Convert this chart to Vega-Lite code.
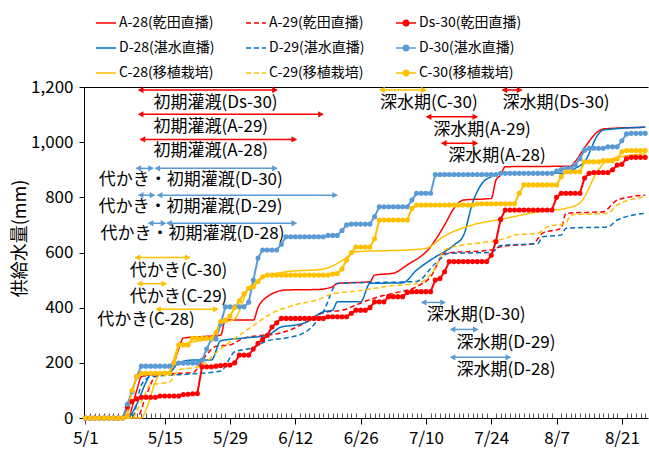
{
  "$schema": "https://vega.github.io/schema/vega-lite/v6.json",
  "width": 564,
  "height": 331,
  "autosize": {"type": "none"},
  "padding": {"left": 84, "top": 87, "right": 1, "bottom": 32},
  "background": "white",
  "config": {
    "font": "Noto Sans CJK JP",
    "view": {"stroke": null},
    "axis": {"labelFont": "Noto Sans CJK JP", "titleFont": "Noto Sans CJK JP", "labelColor": "#000", "titleColor": "#000", "domainColor": "#000", "tickColor": "#000", "domainWidth": 1},
    "legend": {"labelFont": "Noto Sans CJK JP", "labelColor": "#000"}
  },
  "datasets": {
    "lines": [
      {"s":"A-28(乾田直播)","date":"2018/04/28","v":0},{"s":"A-28(乾田直播)","date":"2018/05/07","v":0},{"s":"A-28(乾田直播)","date":"2018/05/09","v":100},{"s":"A-28(乾田直播)","date":"2018/05/10","v":150},{"s":"A-28(乾田直播)","date":"2018/05/16","v":165},{"s":"A-28(乾田直播)","date":"2018/05/18","v":250},{"s":"A-28(乾田直播)","date":"2018/05/19","v":290},{"s":"A-28(乾田直播)","date":"2018/05/23","v":295},{"s":"A-28(乾田直播)","date":"2018/05/27","v":300},{"s":"A-28(乾田直播)","date":"2018/05/28","v":355},{"s":"A-28(乾田直播)","date":"2018/06/03","v":355},{"s":"A-28(乾田直播)","date":"2018/06/04","v":400},{"s":"A-28(乾田直播)","date":"2018/06/06","v":440},{"s":"A-28(乾田直播)","date":"2018/06/10","v":464},{"s":"A-28(乾田直播)","date":"2018/06/17","v":466},{"s":"A-28(乾田直播)","date":"2018/06/20","v":476},{"s":"A-28(乾田直播)","date":"2018/06/21","v":488},{"s":"A-28(乾田直播)","date":"2018/06/28","v":494},{"s":"A-28(乾田直播)","date":"2018/06/29","v":518},{"s":"A-28(乾田直播)","date":"2018/07/03","v":525},{"s":"A-28(乾田直播)","date":"2018/07/06","v":555},{"s":"A-28(乾田直播)","date":"2018/07/11","v":621},{"s":"A-28(乾田直播)","date":"2018/07/12","v":645},{"s":"A-28(乾田直播)","date":"2018/07/14","v":700},{"s":"A-28(乾田直播)","date":"2018/07/16","v":760},{"s":"A-28(乾田直播)","date":"2018/07/18","v":790},{"s":"A-28(乾田直播)","date":"2018/07/24","v":796},{"s":"A-28(乾田直播)","date":"2018/07/25","v":862},{"s":"A-28(乾田直播)","date":"2018/07/26","v":881},{"s":"A-28(乾田直播)","date":"2018/07/27","v":911},{"s":"A-28(乾田直播)","date":"2018/08/10","v":913},{"s":"A-28(乾田直播)","date":"2018/08/11","v":930},{"s":"A-28(乾田直播)","date":"2018/08/13","v":980},{"s":"A-28(乾田直播)","date":"2018/08/16","v":1040},{"s":"A-28(乾田直播)","date":"2018/08/17","v":1048},{"s":"A-28(乾田直播)","date":"2018/08/26","v":1054},
      {"s":"A-29(乾田直播)","date":"2018/04/28","v":0},{"s":"A-29(乾田直播)","date":"2018/05/09","v":0},{"s":"A-29(乾田直播)","date":"2018/05/11","v":80},{"s":"A-29(乾田直播)","date":"2018/05/13","v":150},{"s":"A-29(乾田直播)","date":"2018/05/16","v":160},{"s":"A-29(乾田直播)","date":"2018/05/21","v":165},{"s":"A-29(乾田直播)","date":"2018/05/24","v":230},{"s":"A-29(乾田直播)","date":"2018/05/26","v":260},{"s":"A-29(乾田直播)","date":"2018/05/29","v":265},{"s":"A-29(乾田直播)","date":"2018/06/01","v":290},{"s":"A-29(乾田直播)","date":"2018/06/05","v":300},{"s":"A-29(乾田直播)","date":"2018/06/08","v":305},{"s":"A-29(乾田直播)","date":"2018/06/11","v":320},{"s":"A-29(乾田直播)","date":"2018/06/14","v":345},{"s":"A-29(乾田直播)","date":"2018/06/17","v":375},{"s":"A-29(乾田直播)","date":"2018/06/19","v":385},{"s":"A-29(乾田直播)","date":"2018/06/22","v":390},{"s":"A-29(乾田直播)","date":"2018/06/25","v":410},{"s":"A-29(乾田直播)","date":"2018/06/30","v":440},{"s":"A-29(乾田直播)","date":"2018/07/03","v":452},{"s":"A-29(乾田直播)","date":"2018/07/08","v":476},{"s":"A-29(乾田直播)","date":"2018/07/11","v":512},{"s":"A-29(乾田直播)","date":"2018/07/14","v":597},{"s":"A-29(乾田直播)","date":"2018/07/24","v":609},{"s":"A-29(乾田直播)","date":"2018/07/26","v":621},{"s":"A-29(乾田直播)","date":"2018/08/02","v":633},{"s":"A-29(乾田直播)","date":"2018/08/04","v":670},{"s":"A-29(乾田直播)","date":"2018/08/08","v":688},{"s":"A-29(乾田直播)","date":"2018/08/09","v":742},{"s":"A-29(乾田直播)","date":"2018/08/17","v":748},{"s":"A-29(乾田直播)","date":"2018/08/20","v":790},{"s":"A-29(乾田直播)","date":"2018/08/26","v":808},
      {"s":"D-28(湛水直播)","date":"2018/04/28","v":0},{"s":"D-28(湛水直播)","date":"2018/05/07","v":0},{"s":"D-28(湛水直播)","date":"2018/05/09","v":50},{"s":"D-28(湛水直播)","date":"2018/05/11","v":130},{"s":"D-28(湛水直播)","date":"2018/05/12","v":160},{"s":"D-28(湛水直播)","date":"2018/05/16","v":165},{"s":"D-28(湛水直播)","date":"2018/05/18","v":200},{"s":"D-28(湛水直播)","date":"2018/05/21","v":210},{"s":"D-28(湛水直播)","date":"2018/05/25","v":210},{"s":"D-28(湛水直播)","date":"2018/05/27","v":280},{"s":"D-28(湛水直播)","date":"2018/06/01","v":290},{"s":"D-28(湛水直播)","date":"2018/06/06","v":300},{"s":"D-28(湛水直播)","date":"2018/06/09","v":330},{"s":"D-28(湛水直播)","date":"2018/06/12","v":337},{"s":"D-28(湛水直播)","date":"2018/06/14","v":345},{"s":"D-28(湛水直播)","date":"2018/06/18","v":385},{"s":"D-28(湛水直播)","date":"2018/06/20","v":391},{"s":"D-28(湛水直播)","date":"2018/06/21","v":421},{"s":"D-28(湛水直播)","date":"2018/06/26","v":421},{"s":"D-28(湛水直播)","date":"2018/06/28","v":488},{"s":"D-28(湛水直播)","date":"2018/07/05","v":490},{"s":"D-28(湛水直播)","date":"2018/07/08","v":536},{"s":"D-28(湛水直播)","date":"2018/07/11","v":573},{"s":"D-28(湛水直播)","date":"2018/07/16","v":627},{"s":"D-28(湛水直播)","date":"2018/07/18","v":660},{"s":"D-28(湛水直播)","date":"2018/07/20","v":780},{"s":"D-28(湛水直播)","date":"2018/07/22","v":850},{"s":"D-28(湛水直播)","date":"2018/07/24","v":875},{"s":"D-28(湛水直播)","date":"2018/07/26","v":887},{"s":"D-28(湛水直播)","date":"2018/08/09","v":887},{"s":"D-28(湛水直播)","date":"2018/08/11","v":905},{"s":"D-28(湛水直播)","date":"2018/08/13","v":929},{"s":"D-28(湛水直播)","date":"2018/08/16","v":1030},{"s":"D-28(湛水直播)","date":"2018/08/17","v":1044},{"s":"D-28(湛水直播)","date":"2018/08/26","v":1054},
      {"s":"D-29(湛水直播)","date":"2018/04/28","v":0},{"s":"D-29(湛水直播)","date":"2018/05/08","v":0},{"s":"D-29(湛水直播)","date":"2018/05/10","v":120},{"s":"D-29(湛水直播)","date":"2018/05/12","v":150},{"s":"D-29(湛水直播)","date":"2018/05/16","v":155},{"s":"D-29(湛水直播)","date":"2018/05/21","v":160},{"s":"D-29(湛水直播)","date":"2018/05/27","v":170},{"s":"D-29(湛水直播)","date":"2018/05/30","v":240},{"s":"D-29(湛水直播)","date":"2018/06/03","v":255},{"s":"D-29(湛水直播)","date":"2018/06/06","v":280},{"s":"D-29(湛水直播)","date":"2018/06/10","v":290},{"s":"D-29(湛水直播)","date":"2018/06/14","v":310},{"s":"D-29(湛水直播)","date":"2018/06/18","v":385},{"s":"D-29(湛水直播)","date":"2018/06/21","v":488},{"s":"D-29(湛水直播)","date":"2018/07/08","v":495},{"s":"D-29(湛水直播)","date":"2018/07/12","v":560},{"s":"D-29(湛水直播)","date":"2018/07/15","v":597},{"s":"D-29(湛水直播)","date":"2018/07/24","v":600},{"s":"D-29(湛水直播)","date":"2018/07/26","v":625},{"s":"D-29(湛水直播)","date":"2018/08/03","v":633},{"s":"D-29(湛水直播)","date":"2018/08/04","v":657},{"s":"D-29(湛水直播)","date":"2018/08/08","v":663},{"s":"D-29(湛水直播)","date":"2018/08/09","v":688},{"s":"D-29(湛水直播)","date":"2018/08/18","v":693},{"s":"D-29(湛水直播)","date":"2018/08/20","v":718},{"s":"D-29(湛水直播)","date":"2018/08/26","v":742},
      {"s":"C-28(移植栽培)","date":"2018/04/28","v":0},{"s":"C-28(移植栽培)","date":"2018/05/10","v":0},{"s":"C-28(移植栽培)","date":"2018/05/11","v":30},{"s":"C-28(移植栽培)","date":"2018/05/13","v":130},{"s":"C-28(移植栽培)","date":"2018/05/14","v":162},{"s":"C-28(移植栽培)","date":"2018/05/16","v":170},{"s":"C-28(移植栽培)","date":"2018/05/18","v":260},{"s":"C-28(移植栽培)","date":"2018/05/21","v":275},{"s":"C-28(移植栽培)","date":"2018/05/25","v":290},{"s":"C-28(移植栽培)","date":"2018/05/27","v":340},{"s":"C-28(移植栽培)","date":"2018/05/30","v":360},{"s":"C-28(移植栽培)","date":"2018/06/02","v":470},{"s":"C-28(移植栽培)","date":"2018/06/04","v":500},{"s":"C-28(移植栽培)","date":"2018/06/07","v":520},{"s":"C-28(移植栽培)","date":"2018/06/10","v":530},{"s":"C-28(移植栽培)","date":"2018/06/18","v":540},{"s":"C-28(移植栽培)","date":"2018/06/22","v":570},{"s":"C-28(移植栽培)","date":"2018/06/25","v":603},{"s":"C-28(移植栽培)","date":"2018/07/07","v":610},{"s":"C-28(移植栽培)","date":"2018/07/10","v":615},{"s":"C-28(移植栽培)","date":"2018/07/14","v":660},{"s":"C-28(移植栽培)","date":"2018/07/20","v":700},{"s":"C-28(移植栽培)","date":"2018/07/26","v":720},{"s":"C-28(移植栽培)","date":"2018/08/04","v":750},{"s":"C-28(移植栽培)","date":"2018/08/09","v":760},{"s":"C-28(移植栽培)","date":"2018/08/12","v":780},{"s":"C-28(移植栽培)","date":"2018/08/16","v":900},{"s":"C-28(移植栽培)","date":"2018/08/18","v":935},{"s":"C-28(移植栽培)","date":"2018/08/26","v":958},
      {"s":"C-29(移植栽培)","date":"2018/04/28","v":0},{"s":"C-29(移植栽培)","date":"2018/05/08","v":0},{"s":"C-29(移植栽培)","date":"2018/05/10","v":60},{"s":"C-29(移植栽培)","date":"2018/05/12","v":120},{"s":"C-29(移植栽培)","date":"2018/05/16","v":130},{"s":"C-29(移植栽培)","date":"2018/05/18","v":175},{"s":"C-29(移植栽培)","date":"2018/05/22","v":185},{"s":"C-29(移植栽培)","date":"2018/05/27","v":250},{"s":"C-29(移植栽培)","date":"2018/05/31","v":300},{"s":"C-29(移植栽培)","date":"2018/06/03","v":335},{"s":"C-29(移植栽培)","date":"2018/06/07","v":380},{"s":"C-29(移植栽培)","date":"2018/06/12","v":410},{"s":"C-29(移植栽培)","date":"2018/06/17","v":430},{"s":"C-29(移植栽培)","date":"2018/06/20","v":450},{"s":"C-29(移植栽培)","date":"2018/06/25","v":460},{"s":"C-29(移植栽培)","date":"2018/07/03","v":480},{"s":"C-29(移植栽培)","date":"2018/07/08","v":488},{"s":"C-29(移植栽培)","date":"2018/07/12","v":543},{"s":"C-29(移植栽培)","date":"2018/07/14","v":609},{"s":"C-29(移植栽培)","date":"2018/07/18","v":627},{"s":"C-29(移植栽培)","date":"2018/07/24","v":640},{"s":"C-29(移植栽培)","date":"2018/07/27","v":651},{"s":"C-29(移植栽培)","date":"2018/07/29","v":663},{"s":"C-29(移植栽培)","date":"2018/08/03","v":670},{"s":"C-29(移植栽培)","date":"2018/08/05","v":693},{"s":"C-29(移植栽培)","date":"2018/08/09","v":706},{"s":"C-29(移植栽培)","date":"2018/08/10","v":736},{"s":"C-29(移植栽培)","date":"2018/08/18","v":742},{"s":"C-29(移植栽培)","date":"2018/08/20","v":772},{"s":"C-29(移植栽培)","date":"2018/08/26","v":802}
    ],
    "daily": [
      {"date":"2018/04/28","Ds-30(乾田直播)":0,"D-30(湛水直播)":0,"C-30(移植栽培)":0},
      {"date":"2018/04/29","Ds-30(乾田直播)":0,"D-30(湛水直播)":0,"C-30(移植栽培)":0},
      {"date":"2018/04/30","Ds-30(乾田直播)":0,"D-30(湛水直播)":0,"C-30(移植栽培)":0},
      {"date":"2018/05/01","Ds-30(乾田直播)":0,"D-30(湛水直播)":0,"C-30(移植栽培)":0},
      {"date":"2018/05/02","Ds-30(乾田直播)":0,"D-30(湛水直播)":0,"C-30(移植栽培)":0},
      {"date":"2018/05/03","Ds-30(乾田直播)":0,"D-30(湛水直播)":0,"C-30(移植栽培)":0},
      {"date":"2018/05/04","Ds-30(乾田直播)":0,"D-30(湛水直播)":0,"C-30(移植栽培)":0},
      {"date":"2018/05/05","Ds-30(乾田直播)":0,"D-30(湛水直播)":0,"C-30(移植栽培)":0},
      {"date":"2018/05/06","Ds-30(乾田直播)":0,"D-30(湛水直播)":0,"C-30(移植栽培)":0},
      {"date":"2018/05/07","Ds-30(乾田直播)":40,"D-30(湛水直播)":50,"C-30(移植栽培)":10},
      {"date":"2018/05/08","Ds-30(乾田直播)":60,"D-30(湛水直播)":95,"C-30(移植栽培)":100},
      {"date":"2018/05/09","Ds-30(乾田直播)":70,"D-30(湛水直播)":150,"C-30(移植栽培)":150},
      {"date":"2018/05/10","Ds-30(乾田直播)":75,"D-30(湛水直播)":188,"C-30(移植栽培)":162},
      {"date":"2018/05/11","Ds-30(乾田直播)":75,"D-30(湛水直播)":188,"C-30(移植栽培)":162},
      {"date":"2018/05/12","Ds-30(乾田直播)":75,"D-30(湛水直播)":188,"C-30(移植栽培)":162},
      {"date":"2018/05/13","Ds-30(乾田直播)":75,"D-30(湛水直播)":188,"C-30(移植栽培)":162},
      {"date":"2018/05/14","Ds-30(乾田直播)":80,"D-30(湛水直播)":188,"C-30(移植栽培)":162},
      {"date":"2018/05/15","Ds-30(乾田直播)":80,"D-30(湛水直播)":188,"C-30(移植栽培)":162},
      {"date":"2018/05/16","Ds-30(乾田直播)":80,"D-30(湛水直播)":188,"C-30(移植栽培)":162},
      {"date":"2018/05/17","Ds-30(乾田直播)":80,"D-30(湛水直播)":199,"C-30(移植栽培)":200},
      {"date":"2018/05/18","Ds-30(乾田直播)":80,"D-30(湛水直播)":199,"C-30(移植栽培)":265},
      {"date":"2018/05/19","Ds-30(乾田直播)":85,"D-30(湛水直播)":199,"C-30(移植栽培)":265},
      {"date":"2018/05/20","Ds-30(乾田直播)":86,"D-30(湛水直播)":199,"C-30(移植栽培)":265},
      {"date":"2018/05/21","Ds-30(乾田直播)":88,"D-30(湛水直播)":199,"C-30(移植栽培)":289},
      {"date":"2018/05/22","Ds-30(乾田直播)":89,"D-30(湛水直播)":199,"C-30(移植栽培)":289},
      {"date":"2018/05/23","Ds-30(乾田直播)":186,"D-30(湛水直播)":210,"C-30(移植栽培)":289},
      {"date":"2018/05/24","Ds-30(乾田直播)":186,"D-30(湛水直播)":250,"C-30(移植栽培)":289},
      {"date":"2018/05/25","Ds-30(乾田直播)":186,"D-30(湛水直播)":286,"C-30(移植栽培)":289},
      {"date":"2018/05/26","Ds-30(乾田直播)":188,"D-30(湛水直播)":286,"C-30(移植栽培)":310},
      {"date":"2018/05/27","Ds-30(乾田直播)":190,"D-30(湛水直播)":340,"C-30(移植栽培)":350},
      {"date":"2018/05/28","Ds-30(乾田直播)":192,"D-30(湛水直播)":403,"C-30(移植栽培)":355},
      {"date":"2018/05/29","Ds-30(乾田直播)":192,"D-30(湛水直播)":403,"C-30(移植栽培)":370},
      {"date":"2018/05/30","Ds-30(乾田直播)":200,"D-30(湛水直播)":403,"C-30(移植栽培)":400},
      {"date":"2018/05/31","Ds-30(乾田直播)":228,"D-30(湛水直播)":403,"C-30(移植栽培)":425},
      {"date":"2018/06/01","Ds-30(乾田直播)":228,"D-30(湛水直播)":403,"C-30(移植栽培)":450},
      {"date":"2018/06/02","Ds-30(乾田直播)":228,"D-30(湛水直播)":420,"C-30(移植栽培)":470},
      {"date":"2018/06/03","Ds-30(乾田直播)":250,"D-30(湛水直播)":500,"C-30(移植栽培)":476},
      {"date":"2018/06/04","Ds-30(乾田直播)":271,"D-30(湛水直播)":580,"C-30(移植栽培)":495},
      {"date":"2018/06/05","Ds-30(乾田直播)":285,"D-30(湛水直播)":609,"C-30(移植栽培)":512},
      {"date":"2018/06/06","Ds-30(乾田直播)":300,"D-30(湛水直播)":609,"C-30(移植栽培)":518},
      {"date":"2018/06/07","Ds-30(乾田直播)":330,"D-30(湛水直播)":609,"C-30(移植栽培)":518},
      {"date":"2018/06/08","Ds-30(乾田直播)":345,"D-30(湛水直播)":609,"C-30(移植栽培)":518},
      {"date":"2018/06/09","Ds-30(乾田直播)":361,"D-30(湛水直播)":630,"C-30(移植栽培)":518},
      {"date":"2018/06/10","Ds-30(乾田直播)":361,"D-30(湛水直播)":657,"C-30(移植栽培)":518},
      {"date":"2018/06/11","Ds-30(乾田直播)":361,"D-30(湛水直播)":657,"C-30(移植栽培)":518},
      {"date":"2018/06/12","Ds-30(乾田直播)":361,"D-30(湛水直播)":657,"C-30(移植栽培)":518},
      {"date":"2018/06/13","Ds-30(乾田直播)":361,"D-30(湛水直播)":657,"C-30(移植栽培)":518},
      {"date":"2018/06/14","Ds-30(乾田直播)":361,"D-30(湛水直播)":657,"C-30(移植栽培)":518},
      {"date":"2018/06/15","Ds-30(乾田直播)":361,"D-30(湛水直播)":657,"C-30(移植栽培)":518},
      {"date":"2018/06/16","Ds-30(乾田直播)":361,"D-30(湛水直播)":657,"C-30(移植栽培)":518},
      {"date":"2018/06/17","Ds-30(乾田直播)":361,"D-30(湛水直播)":657,"C-30(移植栽培)":518},
      {"date":"2018/06/18","Ds-30(乾田直播)":361,"D-30(湛水直播)":657,"C-30(移植栽培)":518},
      {"date":"2018/06/19","Ds-30(乾田直播)":367,"D-30(湛水直播)":662,"C-30(移植栽培)":518},
      {"date":"2018/06/20","Ds-30(乾田直播)":367,"D-30(湛水直播)":662,"C-30(移植栽培)":522},
      {"date":"2018/06/21","Ds-30(乾田直播)":367,"D-30(湛水直播)":662,"C-30(移植栽培)":524},
      {"date":"2018/06/22","Ds-30(乾田直播)":367,"D-30(湛水直播)":680,"C-30(移植栽培)":540},
      {"date":"2018/06/23","Ds-30(乾田直播)":367,"D-30(湛水直播)":700,"C-30(移植栽培)":573},
      {"date":"2018/06/24","Ds-30(乾田直播)":380,"D-30(湛水直播)":703,"C-30(移植栽培)":600},
      {"date":"2018/06/25","Ds-30(乾田直播)":391,"D-30(湛水直播)":703,"C-30(移植栽培)":620},
      {"date":"2018/06/26","Ds-30(乾田直播)":391,"D-30(湛水直播)":703,"C-30(移植栽培)":620},
      {"date":"2018/06/27","Ds-30(乾田直播)":391,"D-30(湛水直播)":703,"C-30(移植栽培)":620},
      {"date":"2018/06/28","Ds-30(乾田直播)":400,"D-30(湛水直播)":703,"C-30(移植栽培)":620},
      {"date":"2018/06/29","Ds-30(乾田直播)":421,"D-30(湛水直播)":730,"C-30(移植栽培)":650},
      {"date":"2018/06/30","Ds-30(乾田直播)":421,"D-30(湛水直播)":766,"C-30(移植栽培)":718},
      {"date":"2018/07/01","Ds-30(乾田直播)":421,"D-30(湛水直播)":766,"C-30(移植栽培)":718},
      {"date":"2018/07/02","Ds-30(乾田直播)":440,"D-30(湛水直播)":766,"C-30(移植栽培)":718},
      {"date":"2018/07/03","Ds-30(乾田直播)":440,"D-30(湛水直播)":766,"C-30(移植栽培)":718},
      {"date":"2018/07/04","Ds-30(乾田直播)":440,"D-30(湛水直播)":766,"C-30(移植栽培)":718},
      {"date":"2018/07/05","Ds-30(乾田直播)":440,"D-30(湛水直播)":766,"C-30(移植栽培)":718},
      {"date":"2018/07/06","Ds-30(乾田直播)":455,"D-30(湛水直播)":766,"C-30(移植栽培)":718},
      {"date":"2018/07/07","Ds-30(乾田直播)":458,"D-30(湛水直播)":790,"C-30(移植栽培)":760},
      {"date":"2018/07/08","Ds-30(乾田直播)":458,"D-30(湛水直播)":815,"C-30(移植栽培)":772},
      {"date":"2018/07/09","Ds-30(乾田直播)":458,"D-30(湛水直播)":815,"C-30(移植栽培)":772},
      {"date":"2018/07/10","Ds-30(乾田直播)":458,"D-30(湛水直播)":815,"C-30(移植栽培)":772},
      {"date":"2018/07/11","Ds-30(乾田直播)":458,"D-30(湛水直播)":815,"C-30(移植栽培)":772},
      {"date":"2018/07/12","Ds-30(乾田直播)":500,"D-30(湛水直播)":883,"C-30(移植栽培)":772},
      {"date":"2018/07/13","Ds-30(乾田直播)":506,"D-30(湛水直播)":883,"C-30(移植栽培)":772},
      {"date":"2018/07/14","Ds-30(乾田直播)":530,"D-30(湛水直播)":883,"C-30(移植栽培)":772},
      {"date":"2018/07/15","Ds-30(乾田直播)":567,"D-30(湛水直播)":883,"C-30(移植栽培)":772},
      {"date":"2018/07/16","Ds-30(乾田直播)":567,"D-30(湛水直播)":883,"C-30(移植栽培)":772},
      {"date":"2018/07/17","Ds-30(乾田直播)":567,"D-30(湛水直播)":883,"C-30(移植栽培)":772},
      {"date":"2018/07/18","Ds-30(乾田直播)":567,"D-30(湛水直播)":883,"C-30(移植栽培)":772},
      {"date":"2018/07/19","Ds-30(乾田直播)":567,"D-30(湛水直播)":883,"C-30(移植栽培)":772},
      {"date":"2018/07/20","Ds-30(乾田直播)":567,"D-30(湛水直播)":883,"C-30(移植栽培)":772},
      {"date":"2018/07/21","Ds-30(乾田直播)":567,"D-30(湛水直播)":883,"C-30(移植栽培)":777},
      {"date":"2018/07/22","Ds-30(乾田直播)":567,"D-30(湛水直播)":883,"C-30(移植栽培)":777},
      {"date":"2018/07/23","Ds-30(乾田直播)":567,"D-30(湛水直播)":883,"C-30(移植栽培)":777},
      {"date":"2018/07/24","Ds-30(乾田直播)":590,"D-30(湛水直播)":883,"C-30(移植栽培)":777},
      {"date":"2018/07/25","Ds-30(乾田直播)":640,"D-30(湛水直播)":883,"C-30(移植栽培)":777},
      {"date":"2018/07/26","Ds-30(乾田直播)":720,"D-30(湛水直播)":887,"C-30(移植栽培)":777},
      {"date":"2018/07/27","Ds-30(乾田直播)":754,"D-30(湛水直播)":887,"C-30(移植栽培)":777},
      {"date":"2018/07/28","Ds-30(乾田直播)":754,"D-30(湛水直播)":887,"C-30(移植栽培)":777},
      {"date":"2018/07/29","Ds-30(乾田直播)":754,"D-30(湛水直播)":887,"C-30(移植栽培)":777},
      {"date":"2018/07/30","Ds-30(乾田直播)":754,"D-30(湛水直播)":887,"C-30(移植栽培)":815},
      {"date":"2018/07/31","Ds-30(乾田直播)":754,"D-30(湛水直播)":887,"C-30(移植栽培)":845},
      {"date":"2018/08/01","Ds-30(乾田直播)":754,"D-30(湛水直播)":887,"C-30(移植栽培)":845},
      {"date":"2018/08/02","Ds-30(乾田直播)":754,"D-30(湛水直播)":887,"C-30(移植栽培)":845},
      {"date":"2018/08/03","Ds-30(乾田直播)":754,"D-30(湛水直播)":887,"C-30(移植栽培)":845},
      {"date":"2018/08/04","Ds-30(乾田直播)":754,"D-30(湛水直播)":887,"C-30(移植栽培)":845},
      {"date":"2018/08/05","Ds-30(乾田直播)":754,"D-30(湛水直播)":887,"C-30(移植栽培)":845},
      {"date":"2018/08/06","Ds-30(乾田直播)":754,"D-30(湛水直播)":887,"C-30(移植栽培)":845},
      {"date":"2018/08/07","Ds-30(乾田直播)":800,"D-30(湛水直播)":895,"C-30(移植栽培)":845},
      {"date":"2018/08/08","Ds-30(乾田直播)":815,"D-30(湛水直播)":901,"C-30(移植栽培)":875},
      {"date":"2018/08/09","Ds-30(乾田直播)":815,"D-30(湛水直播)":905,"C-30(移植栽培)":893},
      {"date":"2018/08/10","Ds-30(乾田直播)":815,"D-30(湛水直播)":905,"C-30(移植栽培)":893},
      {"date":"2018/08/11","Ds-30(乾田直播)":815,"D-30(湛水直播)":917,"C-30(移植栽培)":893},
      {"date":"2018/08/12","Ds-30(乾田直播)":815,"D-30(湛水直播)":940,"C-30(移植栽培)":893},
      {"date":"2018/08/13","Ds-30(乾田直播)":870,"D-30(湛水直播)":971,"C-30(移植栽培)":929},
      {"date":"2018/08/14","Ds-30(乾田直播)":887,"D-30(湛水直播)":978,"C-30(移植栽培)":929},
      {"date":"2018/08/15","Ds-30(乾田直播)":890,"D-30(湛水直播)":978,"C-30(移植栽培)":929},
      {"date":"2018/08/16","Ds-30(乾田直播)":890,"D-30(湛水直播)":978,"C-30(移植栽培)":929},
      {"date":"2018/08/17","Ds-30(乾田直播)":890,"D-30(湛水直播)":978,"C-30(移植栽培)":933},
      {"date":"2018/08/18","Ds-30(乾田直播)":890,"D-30(湛水直播)":983,"C-30(移植栽培)":933},
      {"date":"2018/08/19","Ds-30(乾田直播)":900,"D-30(湛水直播)":983,"C-30(移植栽培)":933},
      {"date":"2018/08/20","Ds-30(乾田直播)":917,"D-30(湛水直播)":983,"C-30(移植栽培)":940},
      {"date":"2018/08/21","Ds-30(乾田直播)":920,"D-30(湛水直播)":1005,"C-30(移植栽培)":965},
      {"date":"2018/08/22","Ds-30(乾田直播)":941,"D-30(湛水直播)":1030,"C-30(移植栽培)":970},
      {"date":"2018/08/23","Ds-30(乾田直播)":945,"D-30(湛水直播)":1032,"C-30(移植栽培)":970},
      {"date":"2018/08/24","Ds-30(乾田直播)":945,"D-30(湛水直播)":1032,"C-30(移植栽培)":970},
      {"date":"2018/08/25","Ds-30(乾田直播)":945,"D-30(湛水直播)":1032,"C-30(移植栽培)":970},
      {"date":"2018/08/26","Ds-30(乾田直播)":945,"D-30(湛水直播)":1032,"C-30(移植栽培)":970}
    ],
    "arrows": [
      {"g":"A","x1":"2018/05/09 10:20","x2":"2018/06/08 01:00","y":1189},
      {"g":"A","x1":"2018/05/09 10:20","x2":"2018/06/17 21:30","y":1101},
      {"g":"A","x1":"2018/05/09 19:10","x2":"2018/06/12 04:50","y":1010},
      {"g":"D","x1":"2018/05/08 22:30","x2":"2018/05/12 12:00","y":905},
      {"g":"D","x1":"2018/05/13 00:00","x2":"2018/06/08 01:00","y":905},
      {"g":"D","x1":"2018/05/09 10:20","x2":"2018/05/12 19:10","y":808},
      {"g":"D","x1":"2018/05/13 12:00","x2":"2018/06/20 22:50","y":808},
      {"g":"D","x1":"2018/05/11 13:40","x2":"2018/05/15 03:40","y":706},
      {"g":"D","x1":"2018/05/15 12:00","x2":"2018/06/12 04:50","y":706},
      {"g":"C","x1":"2018/05/08 17:30","x2":"2018/05/20 08:20","y":582},
      {"g":"C","x1":"2018/05/09 04:50","x2":"2018/05/15 08:40","y":487},
      {"g":"C","x1":"2018/05/13 04:50","x2":"2018/05/26 09:40","y":394},
      {"g":"C","x1":"2018/06/30 03:40","x2":"2018/07/10 00:00","y":1189},
      {"g":"A","x1":"2018/07/26 09:40","x2":"2018/07/30 12:00","y":1189},
      {"g":"A","x1":"2018/07/10 03:40","x2":"2018/07/21 00:00","y":1092},
      {"g":"A","x1":"2018/07/13 09:40","x2":"2018/07/21 00:00","y":996},
      {"g":"D","x1":"2018/07/09 02:20","x2":"2018/07/14 02:20","y":419},
      {"g":"D","x1":"2018/07/15 07:10","x2":"2018/07/21 02:20","y":321},
      {"g":"D","x1":"2018/07/15 07:10","x2":"2018/07/28 02:20","y":220}
    ],
    "notes": [
      {"t":"初期灌漑(Ds-30)","x":"2018/05/12 14:20","y":1141},
      {"t":"初期灌漑(A-29)","x":"2018/05/12 14:20","y":1056},
      {"t":"初期灌漑(A-28)","x":"2018/05/12 14:20","y":968},
      {"t":"代かき・初期灌漑(D-30)","x":"2018/04/30 21:00","y":863},
      {"t":"代かき・初期灌漑(D-29)","x":"2018/04/30 19:10","y":766},
      {"t":"代かき・初期灌漑(D-28)","x":"2018/05/01 05:40","y":667},
      {"t":"代かき(C-30)","x":"2018/05/07 12:00","y":534},
      {"t":"代かき(C-29)","x":"2018/05/07 12:00","y":440},
      {"t":"代かき(C-28)","x":"2018/04/30 12:40","y":355},
      {"t":"深水期(C-30)","x":"2018/06/30 03:40","y":1141},
      {"t":"深水期(Ds-30)","x":"2018/07/26 09:40","y":1141},
      {"t":"深水期(A-29)","x":"2018/07/11 13:30","y":1044},
      {"t":"深水期(A-28)","x":"2018/07/14 18:30","y":950},
      {"t":"深水期(D-30)","x":"2018/07/10 03:40","y":373},
      {"t":"深水期(D-29)","x":"2018/07/16 13:40","y":271},
      {"t":"深水期(D-28)","x":"2018/07/16 13:40","y":174}
    ]
  },
  "layer": [
    {
      "data": {"name": "lines"},
      "mark": {"type": "line", "strokeWidth": 1.5, "interpolate": "monotone"},
      "encoding": {
        "x": {
          "field": "date", "type": "temporal",
          "scale": {"domain": [{"year": 2018, "month": 4, "date": 27, "hours": 16, "minutes": 48}, {"year": 2018, "month": 8, "date": 26, "hours": 14, "minutes": 24}]},
          "axis": {
            "title": null,
            "grid": false,
            "tickCount": {"interval": "day", "step": 1},
            "labelExpr": "(round((datum.value - datetime(2018,4,1))/864e5) % 14 == 0 && datum.value > datetime(2018,4,1)) ? timeFormat(datum.value, '%-m/%-d') : (round((datum.value - datetime(2018,4,1))/864e5) == -3 ? '5/1' : '')",
            "labelFlush": false,
            "labelOverlap": false,
            "labelFontSize": 17,
            "labelPadding": 6,
            "tickSize": {"condition": {"test": "(round((datum.value - datetime(2018,4,1))/864e5) % 14 == 0 && datum.value > datetime(2018,4,1)) || round((datum.value - datetime(2018,4,1))/864e5) == -3", "value": 6}, "value": -5},
            "tickColor": {"condition": {"test": "round((datum.value - datetime(2018,4,1))/864e5) % 14 == 0 && datum.value > datetime(2018,4,1)", "value": "#000"}, "value": "#555"},
            "tickWidth": 1
          }
        },
        "y": {
          "field": "v", "type": "quantitative",
          "scale": {"domain": [0, 1200], "nice": false},
          "axis": {
            "title": "供給水量(mm)",
            "values": [0, 200, 400, 600, 800, 1000, 1200],
            "format": ",.0f",
            "labelFontSize": 17,
            "labelPadding": 6,
            "tickSize": 5,
            "titleFontSize": 18,
            "titleFontWeight": "normal",
            "titleX": -64,
            "titleY": 151,
            "titleAngle": -90,
            "titleAlign": "center",
            "titleBaseline": "middle",
            "grid": true,
            "gridColor": "#000",
            "gridOpacity": {"condition": {"test": "datum.value == 1200", "value": 1}, "value": 0}
          }
        },
        "color": {
          "field": "s", "type": "nominal",
          "scale": {
            "domain": ["A-28(乾田直播)","D-28(湛水直播)","C-28(移植栽培)","A-29(乾田直播)","D-29(湛水直播)","C-29(移植栽培)","Ds-30(乾田直播)","D-30(湛水直播)","C-30(移植栽培)"],
            "range": ["#FF0000","#0070C0","#FFC000","#FF0000","#0070C0","#FFC000","#FF0000","#5B9BD5","#FFC000"]
          },
          "legend": {
            "title": null,
            "orient": "none",
            "legendX": 11,
            "legendY": -75,
            "columns": 3,
            "padding": 0,
            "symbolType": "stroke",
            "symbolSize": 400,
            "symbolStrokeWidth": 1.5,
            "labelFontSize": 14,
            "labelOffset": 2,
            "columnPadding": 28,
            "rowPadding": 7,
            "encode": {
              "symbols": {
                "update": {
                  "shape": {"signal": "indexof(['Ds-30(乾田直播)','D-30(湛水直播)','C-30(移植栽培)'], datum.value) >= 0 ? 'M-1,0L1,0M0.28,0A0.28,0.28,0,1,1,-0.28,0A0.28,0.28,0,1,1,0.28,0Z' : 'stroke'"},
                  "fill": {"signal": "indexof(['Ds-30(乾田直播)','D-30(湛水直播)','C-30(移植栽培)'], datum.value) >= 0 ? scale('color', datum.value) : 'transparent'"}
                }
              }
            }
          }
        },
        "strokeDash": {
          "field": "s", "type": "nominal",
          "scale": {
            "domain": ["A-28(乾田直播)","D-28(湛水直播)","C-28(移植栽培)","A-29(乾田直播)","D-29(湛水直播)","C-29(移植栽培)","Ds-30(乾田直播)","D-30(湛水直播)","C-30(移植栽培)"],
            "range": [[1,0],[1,0],[1,0],[5,3],[5,3],[5,3],[1,0],[1,0],[1,0]]
          },
          "legend": null
        }
      }
    },
    {
      "data": {"name": "daily"},
      "transform": [{"fold": ["Ds-30(乾田直播)", "D-30(湛水直播)", "C-30(移植栽培)"], "as": ["s", "v"]}],
      "mark": {"type": "line", "strokeWidth": 2, "point": {"filled": true, "size": 26}},
      "encoding": {
        "x": {"field": "date", "type": "temporal", "title": null},
        "y": {"field": "v", "type": "quantitative"},
        "color": {"field": "s", "type": "nominal"}
      }
    },
    {
      "data": {"name": "arrows"},
      "mark": {"type": "rule", "strokeWidth": 1.5},
      "encoding": {
        "x": {"field": "x1", "type": "temporal", "title": null},
        "x2": {"field": "x2"},
        "y": {"field": "y", "type": "quantitative"},
        "stroke": {"field": "g", "type": "nominal", "scale": {"domain": ["A","D","C"], "range": ["#FF0000","#5B9BD5","#FFC000"]}, "legend": null}
      }
    },
    {
      "data": {"name": "arrows"},
      "mark": {"type": "point", "shape": "triangle-left", "filled": true, "size": 40, "xOffset": 2, "strokeWidth": 0, "opacity": 1},
      "encoding": {
        "x": {"field": "x1", "type": "temporal", "title": null},
        "y": {"field": "y", "type": "quantitative"},
        "fill": {"field": "g", "type": "nominal", "scale": {"domain": ["A","D","C"], "range": ["#FF0000","#5B9BD5","#FFC000"]}, "legend": null}
      }
    },
    {
      "data": {"name": "arrows"},
      "mark": {"type": "point", "shape": "triangle-right", "filled": true, "size": 40, "xOffset": -2, "strokeWidth": 0, "opacity": 1},
      "encoding": {
        "x": {"field": "x2", "type": "temporal", "title": null},
        "y": {"field": "y", "type": "quantitative"},
        "fill": {"field": "g", "type": "nominal", "scale": {"domain": ["A","D","C"], "range": ["#FF0000","#5B9BD5","#FFC000"]}, "legend": null}
      }
    },
    {
      "data": {"name": "notes"},
      "mark": {"type": "text", "align": "left", "baseline": "middle", "fontSize": 17, "color": "#000"},
      "encoding": {
        "x": {"field": "x", "type": "temporal", "title": null},
        "y": {"field": "y", "type": "quantitative"},
        "text": {"field": "t"}
      }
    }
  ]
}
